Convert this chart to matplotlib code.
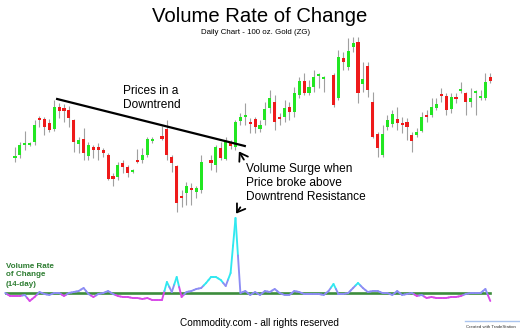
import numpy as np
import matplotlib.pyplot as plt
from matplotlib.collections import LineCollection

plt.rcParams['font.family'] = ['Liberation Sans', 'DejaVu Sans']

# pregões (índice do dia); None = dia sem candle
dias = list(range(98))
abertura = [1342, 1345, 1355, 1355, 1358, 1382, 1381, 1377, 1371, 1393,
            1392, 1390, 1380, 1356, 1361, 1344, 1353, 1353, 1350, 1345,
            1324, 1323, 1337, 1333, 1328, 1340, 1340, 1345, 1359, None,
            1364, 1371, 1343, 1334, 1304, 1307, 1312, 1308, 1310, None,
            1340, 1335, 1352, 1341, 1357, 1353, 1379, 1383, 1378, 1381,
            1371, 1380, 1392, 1398, 1383, 1383, 1393, 1388, 1405, 1419,
            1407, 1413, 1424, 1421, None, 1425, 1402, 1442, 1433, 1453,
            1458, 1416, 1434, 1398, 1366, 1345, 1373, 1376, 1381, 1377,
            1378, 1365, 1365, 1369, 1385, 1385, 1392, 1406, 1404, 1391,
            1403, 1409, 1407, 1398, 1407, 1402, 1402, 1423]
maxima = [1353, 1358, 1369, 1358, 1380, 1384, 1383, 1381, 1400, 1397,
          1396, 1394, 1381, 1363, 1372, 1358, 1355, 1357, 1352, 1347,
          1327, 1338, 1340, 1335, 1331, 1351, 1352, 1363, 1363, None,
          1374, 1380, 1345, 1335, 1310, 1318, 1317, 1314, 1345, None,
          1345, 1355, 1358, 1363, 1360, 1380, 1387, 1397, 1382, 1383,
          1380, 1398, 1410, 1405, 1387, 1400, 1398, 1413, 1423, 1427,
          1420, 1430, 1427, 1424, None, 1427, 1450, 1448, 1462, 1463,
          1463, 1438, 1438, 1408, 1368, 1375, 1385, 1390, 1393, 1383,
          1382, 1368, 1372, 1388, 1390, 1402, 1402, 1412, 1407, 1407,
          1407, 1418, 1408, 1412, 1410, 1410, 1427, 1427]
minima = [1338, 1342, 1350, 1354, 1355, 1373, 1365, 1368, 1369, 1382,
          1378, 1373, 1348, 1347, 1340, 1340, 1342, 1340, 1343, 1320,
          1314, 1320, 1327, 1323, 1327, 1337, 1337, 1343, 1357, None,
          1360, 1340, 1328, 1288, 1293, 1295, 1295, 1302, 1307, None,
          1330, 1328, 1340, 1340, 1351, 1350, 1375, 1375, 1367, 1367,
          1368, 1375, 1387, 1370, 1375, 1378, 1380, 1383, 1402, 1405,
          1405, 1408, 1412, 1408, None, 1393, 1400, 1430, 1430, 1448,
          1397, 1408, 1403, 1362, 1343, 1343, 1370, 1373, 1370, 1367,
          1360, 1348, 1363, 1368, 1378, 1383, 1390, 1398, 1385, 1387,
          1397, 1407, 1385, 1393, 1385, 1400, 1400, 1417]
fechamento = [1343, 1355, 1357, 1357, 1375, 1380, 1373, 1370, 1393, 1389,
              1389, 1382, 1358, 1360, 1347, 1355, 1350, 1350, 1347, 1321,
              1321, 1335, 1333, 1327, 1330, 1338, 1345, 1361, 1361, None,
              1361, 1345, 1337, 1297, 1302, 1314, 1310, 1312, 1338, None,
              1337, 1353, 1342, 1358, 1354, 1378, 1383, 1384, 1376, 1373,
              1375, 1391, 1402, 1378, 1381, 1392, 1388, 1407, 1419, 1407,
              1413, 1423, 1425, 1422, None, 1395, 1443, 1438, 1449, 1457,
              1407, 1421, 1410, 1363, 1352, 1366, 1380, 1386, 1377, 1375,
              1373, 1359, 1368, 1383, 1383, 1393, 1396, 1404, 1390, 1403,
              1401, 1411, 1398, 1402, 1409, 1404, 1418, 1419]

# Volume Rate of Change (14 dias), em %
roc_dias = list(range(-2, 98))
roc = [0, -12, -12, -12, -8, -32, -16, 4, -4, -8,
       0, 0, -12, 0, 4, 8, 20, -4, -16, -4,
       0, 8, -4, -12, -16, -16, -20, -20, -24, -20,
       -28, -28, -28, 44, 4, 64, -16, 4, 8, 16,
       20, 40, 64, 64, 52, 28, 80, 300, 0, 8,
       -8, 4, -8, 8, 4, 16, 0, -8, -8, 8,
       4, -4, -4, -4, -4, -8, 8, 36, -4, -4,
       0, 20, 40, 20, 4, 8, 8, 0, 0, -8,
       8, -8, -4, 0, -12, -8, -20, -16, -20, -20,
       -20, -16, -16, -12, -4, 0, 0, 0, 16, -32]

# linha de tendência de baixa
lt_x = [8.6, 46.9]
lt_y = [1401, 1354]


x = np.array(dias, dtype=float)
o = np.array(abertura, dtype=float)
h = np.array(maxima, dtype=float)
l = np.array(minima, dtype=float)
c = np.array(fechamento, dtype=float)

verde = "#22e622"
vermelho = "#ee1a1a"

fig = plt.figure(figsize=(5.2, 3.3), dpi=100)
ax = fig.add_axes([0, 0, 1, 1])
ax.set_xlim(-3.06, 103.06)
ax.set_ylim(1170, 1500)
ax.axis("off")

ok = ~np.isnan(o)
ax.vlines(x[ok], l[ok], h[ok], color="#a0a0a0", lw=0.8, zorder=2)
sobe = ok & (c >= o)
desce = ok & (c < o)
for m, cor in ((sobe, verde), (desce, vermelho)):
    base = np.minimum(o[m], c[m])
    alt = np.maximum(np.abs(c[m] - o[m]), 1.6)
    ax.bar(x[m], alt, bottom=base, width=0.62, color=cor, lw=0, zorder=3)

ax.plot(lt_x, lt_y, color="black", lw=1.6, zorder=4)

seta = dict(arrowstyle="->,head_length=0.45,head_width=0.3", color="black", lw=1.3,
            mutation_scale=12)
ax.annotate("", xy=(45.4, 1351), xytext=(47.0, 1338), arrowprops=seta)
ax.annotate("", xy=(44.8, 1284), xytext=(46.3, 1295), arrowprops=seta)

# painel do ROC
ax2 = fig.add_axes([0, 0, 1, 1], frameon=False)
ax2.set_xlim(-3.06, 103.06)
ax2.set_ylim(-148, 1172)
ax2.axis("off")
ax2.plot([-1.85, 97], [0, 0], color="#3c8c3c", lw=1.9, zorder=1)

rx = np.array(roc_dias, dtype=float)
rv = np.array(roc, dtype=float)


def cor_roc(v):
    if v >= 35:
        return "#30e8f0"
    if v <= -10:
        return "#d848e8"
    return "#8c8cf4"


segs, cores = [], []
for i in range(len(rx) - 1):
    mx, mv = (rx[i] + rx[i + 1]) / 2, (rv[i] + rv[i + 1]) / 2
    segs.append([(rx[i], rv[i]), (mx, mv)])
    cores.append(cor_roc(rv[i]))
    segs.append([(mx, mv), (rx[i + 1], rv[i + 1])])
    cores.append(cor_roc(rv[i + 1]))
ax2.add_collection(LineCollection(segs, colors=cores, lw=1.35, capstyle="round", zorder=2))

# textos
fig.text(0.5, 1 - 22 / 330, "Volume Rate of Change", ha="center", va="baseline", fontsize=14.6)
fig.text(255.5 / 520, 1 - 32.5 / 330, "Daily Chart - 100 oz. Gold (ZG)", ha="center",
         va="center", fontsize=5.7)
fig.text(123 / 520, 1 - 98 / 330, "Prices in a\nDowntrend", ha="left", va="center",
         fontsize=8.6, linespacing=1.2)
fig.text(246 / 520, 1 - 183 / 330, "Volume Surge when\nPrice broke above\nDowntrend Resistance",
         ha="left", va="center", fontsize=8.6, linespacing=1.2)
fig.text(6 / 520, 1 - 275 / 330, "Volume Rate\nof Change\n(14-day)", ha="left", va="center",
         fontsize=5.8, fontweight="bold", color="#2e7d32", linespacing=1.4)
fig.text(259.5 / 520, 1 - 323 / 330, "Commodity.com - all rights reserved", ha="center",
         va="center", fontsize=7.2)
fig.add_artist(plt.Line2D([465 / 520, 1], [1 - 321 / 330] * 2, color="#aac4ee", lw=1))
fig.text(491 / 520, 1 - 326.5 / 330, "Created with TradeStation", ha="center", va="center",
         fontsize=3.2, color="#333333")

fig.savefig("out.png", dpi=100)
